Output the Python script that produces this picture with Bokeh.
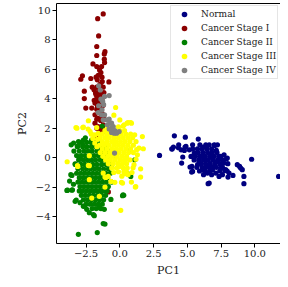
from bokeh.plotting import figure
from bokeh.models import Range1d, FixedTicker, CustomJSTickFormatter, LinearAxis
from bokeh.embed import file_html
from bokeh.resources import INLINE

# ---------------- data (PC1, PC2) ----------------
normal_pts = [
    (2.94, 0.16), (4.04, 1.49), (4.85, 1.40), (5.81, 1.27), (3.87, 0.59), (3.97, 0.73),
    (4.36, 0.88), (4.54, 0.54), (4.90, 0.77), (5.15, 0.54), (5.39, 0.88), (4.66, 0.05),
    (4.58, -0.36), (5.20, -0.63), (5.32, -0.97), (6.54, -1.76), (9.19, -1.76), (9.19, -1.27),
    (9.76, -0.10), (11.76, -1.27), (8.87, -0.59), (9.07, -0.81), (8.01, -1.31), (8.38, -1.20),
    (7.77, -0.86), (7.89, -0.07), (7.15, 0.50), (7.03, 0.84), (5.93, 0.88), (6.18, 0.73),
    (6.37, 0.88), (6.62, 0.88), (6.99, 0.88), (7.23, 0.88), (5.51, 0.32), (5.27, 0.09),
    (5.34, -0.59), (5.39, -0.93), (5.76, -0.47), (6.13, -0.81), (6.49, -1.04), (6.62, -1.72),
    (6.99, -0.59), (7.23, -0.25), (7.47, 0.09), (7.72, 0.20), (7.96, -0.02), (8.09, -1.04),
    (8.70, -0.47), (8.95, -0.70), (7.35, -1.27), (7.84, -0.81), (6.86, -0.02), (6.37, -0.14),
    (6.13, 0.09), (5.88, -0.25), (6.62, -0.59), (6.86, -0.81), (7.47, -0.70), (7.11, -1.04),
    (7.72, -0.36), (4.83, 0.73), (4.34, 0.68), (3.85, 0.61), (4.78, 0.50),
    (5.40, 0.60), (5.75, 0.60), (6.10, 0.60), (6.45, 0.60), (6.80, 0.60),
    (5.80, 0.35), (6.15, 0.35), (6.50, 0.35), (6.85, 0.35), (7.20, 0.35),
    (5.60, 0.10), (5.95, 0.10), (6.30, 0.10), (6.65, 0.10), (7.00, 0.10), (7.35, 0.10),
    (5.50, -0.15), (5.85, -0.15), (6.20, -0.15), (6.55, -0.15), (6.90, -0.15), (7.25, -0.15), (7.60, -0.15),
    (6.00, -0.40), (6.35, -0.40), (6.70, -0.40), (7.05, -0.40), (7.40, -0.40), (8.00, -0.40),
    (5.70, -0.65), (6.10, -0.65), (6.40, -0.65), (6.75, -0.65), (7.15, -0.65), (7.60, -0.65),
    (5.90, -0.90), (6.30, -0.90), (6.65, -0.90), (7.40, -0.90), (7.95, -0.90),
    (6.20, -1.15), (6.80, -1.15), (7.60, -1.15),
]

stage1_pts = [
    (-1.23, 9.76), (-1.64, 9.44), (-1.57, 8.27), (-1.71, 7.55), (-1.10, 7.20), (-1.15, 7.05),
    (-1.71, 6.94), (-1.15, 6.69), (-1.13, 6.46), (-1.99, 6.37), (-1.71, 6.19), (-1.35, 6.19),
    (-1.40, 5.78), (-2.77, 5.56), (-2.89, 5.33), (-2.15, 5.38), (-1.76, 5.47), (-1.67, 5.29),
    (-1.32, 5.47), (-0.81, 5.15), (-1.30, 5.17), (-1.47, 4.93), (-2.04, 4.79), (-1.71, 4.79),
    (-1.23, 4.79), (-2.63, 4.52), (-1.91, 4.61), (-1.52, 4.49), (-1.18, 4.43), (-1.76, 4.27),
    (-1.47, 4.16), (-2.63, 4.02), (-1.71, 4.02), (-1.32, 3.93), (-1.84, 3.71), (-1.60, 3.75),
    (-1.23, 3.57), (-2.52, 3.37), (-2.08, 3.37), (-1.71, 3.30), (-1.52, 3.14), (-1.84, 2.92),
    (-1.35, 2.85), (-1.71, 2.62), (-1.42, 2.53), (-1.84, 2.35), (-1.23, 2.24), (-1.60, 2.12),
    (-1.76, 1.44), (-1.27, 1.78), (-0.85, -2.32),
    (-1.55, 4.60), (-1.45, 4.40), (-1.60, 4.00), (-1.40, 3.80), (-1.65, 3.50), (-1.50, 3.20),
    (-1.30, 3.00), (-1.55, 2.70), (-1.45, 5.00), (-1.60, 5.60), (-1.50, 5.95), (-1.25, 4.20),
    (-1.80, 4.40), (-1.90, 3.90), (-1.35, 3.40), (-1.20, 2.80), (-1.70, 2.00), (-1.50, 1.80),
    (-1.30, 2.00),
]

stage2_pts = [
    # outer points
    (-3.07, -5.20), (-1.67, -5.08), (-1.23, -4.47), (-1.10, -4.50), (-1.89, -3.93), (-3.87, -2.20),
    (-3.55, -2.20), (-3.72, -1.58), (-3.43, -1.80), (-3.55, -1.20), (-3.60, 0.88), (-2.74, 0.88),
    (-3.31, -0.41), (-2.94, -0.07), (1.10, -0.14), (0.81, -1.27), (0.29, -2.55), (0.20, -2.58),
    (-3.23, -2.87), (-2.94, -3.05), (-2.62, -3.28), (-2.45, -3.50), (-2.26, -3.73), (-1.52, -3.39),
    (-1.15, -3.50), (-0.66, -2.83), (-3.63, -1.15), (-3.92, -2.22), (-3.51, -2.17), (-3.31, -2.96),
    (-2.70, -3.30), (-1.96, -3.86), (0.24, -2.51), (0.54, -1.04), (-3.42, 1.00), (-3.06, 1.10),
    (-2.70, 1.20), (-2.09, 1.20), (-1.30, 2.15), (-3.10, 0.80), (0.73, 0.49),
    # dense body
    (-2.55, 1.35),
    (-2.85, 1.05), (-2.45, 1.05), (-2.15, 1.05), (-1.75, 1.05), (-1.35, 1.05),
    (-3.15, 0.75), (-2.75, 0.75), (-2.45, 0.75), (-2.10, 0.75), (-1.80, 0.75), (-1.45, 0.75), (-1.10, 0.75),
    (-3.40, 0.45), (-3.00, 0.45), (-2.65, 0.45), (-2.35, 0.45), (-2.05, 0.45), (-1.70, 0.45),
    (-1.40, 0.45), (-1.05, 0.45), (-0.70, 0.45),
    (-3.20, 0.15), (-2.85, 0.15), (-2.55, 0.15), (-2.20, 0.15), (-1.90, 0.15), (-1.60, 0.15),
    (-1.25, 0.15), (-0.90, 0.15), (-0.50, 0.15),
    (-3.05, -0.15), (-2.70, -0.15), (-2.40, -0.15), (-2.10, -0.15), (-1.80, -0.15), (-1.45, -0.15),
    (-1.15, -0.15), (-0.80, -0.15),
    (-3.30, -0.45), (-2.90, -0.45), (-2.60, -0.45), (-2.30, -0.45), (-2.00, -0.45), (-1.70, -0.45),
    (-1.35, -0.45), (-1.00, -0.45), (-0.60, -0.45),
    (-3.10, -0.75), (-2.75, -0.75), (-2.45, -0.75), (-2.15, -0.75), (-1.85, -0.75), (-1.55, -0.75),
    (-1.20, -0.75), (-0.85, -0.75),
    (-3.20, -1.05), (-2.90, -1.05), (-2.60, -1.05), (-2.30, -1.05), (-2.00, -1.05), (-1.70, -1.05),
    (-1.40, -1.05), (-1.05, -1.05), (-0.70, -1.05),
    (-3.00, -1.35), (-2.70, -1.35), (-2.40, -1.35), (-2.10, -1.35), (-1.80, -1.35), (-1.50, -1.35),
    (-1.20, -1.35), (-0.90, -1.35),
    (-3.10, -1.65), (-2.80, -1.65), (-2.50, -1.65), (-2.20, -1.65), (-1.90, -1.65), (-1.60, -1.65),
    (-1.30, -1.65), (-1.00, -1.65), (-0.60, -1.65),
    (-2.95, -1.95), (-2.65, -1.95), (-2.35, -1.95), (-2.05, -1.95), (-1.75, -1.95), (-1.45, -1.95),
    (-1.15, -1.95), (-0.85, -1.95),
    (-3.00, -2.25), (-2.75, -2.25), (-2.45, -2.25), (-2.15, -2.25), (-1.85, -2.25), (-1.55, -2.25),
    (-1.25, -2.25), (-0.95, -2.25),
    (-2.85, -2.55), (-2.55, -2.55), (-2.25, -2.55), (-1.95, -2.55), (-1.65, -2.55), (-1.35, -2.55),
    (-1.05, -2.55),
    (-2.70, -2.85), (-2.40, -2.85), (-2.10, -2.85), (-1.80, -2.85), (-1.50, -2.85), (-1.20, -2.85),
    (-2.50, -3.15), (-2.20, -3.15), (-1.90, -3.15), (-1.60, -3.15), (-1.30, -3.15),
    (-2.05, -3.45), (-1.75, -3.45), (-1.40, -3.45),
]

stage3_pts = [
    # outer points
    (-2.74, 2.05), (-3.18, 2.01), (-3.25, 2.05), (-2.70, 2.08), (-2.33, 2.51), (-2.20, 1.78),
    (-2.35, 1.95), (-0.98, 1.00), (0.61, 2.39), (0.79, 2.39), (-0.31, 3.41), (-0.44, 2.89),
    (0.54, 2.35), (0.86, 2.35), (1.10, 1.56), (0.32, 2.24), (0.24, 2.15), (0.00, 2.57),
    (-1.71, 2.05), (-3.90, -0.27), (-2.26, 0.14), (-3.11, -0.59), (-2.26, -0.54), (-2.26, -1.49),
    (-1.52, -2.62), (-1.03, -1.34), (-0.66, -1.61), (0.20, -1.72), (1.18, -1.95), (1.05, -0.47),
    (-0.05, -0.59), (0.49, -0.09), (1.30, 0.20), (1.42, 0.66), (1.67, 1.44), (-3.14, -0.54),
    (-1.10, -1.99), (-2.08, -2.74), (0.07, -3.57), (0.12, -1.67), (-0.37, -1.67), (0.37, -1.08),
    (0.61, -1.15), (-0.86, -1.27), (-1.23, -1.04), (-2.33, -0.52), (-1.10, -1.31), (1.15, -1.99),
    (1.54, -1.31), (1.54, -0.75), (1.74, 0.61), (0.98, -0.68), (0.49, -0.97), (0.86, -1.65),
    (-1.85, 1.55), (-1.65, 1.25), (-1.85, 1.00), (-1.70, 0.75), (-2.00, 1.30), (-1.60, 1.65),
    (-2.10, 1.60), (1.20, 1.10), (1.25, 0.55), (1.20, -0.10), (0.90, -1.00),
    (0.50, -0.40), (0.55, -0.70), (-0.10, -0.95), (0.30, -0.95), (-0.45, -1.00), (0.15, -1.25),
    # dense core
    (-0.90, 2.10), (-0.50, 2.10), (-0.10, 2.10),
    (-1.10, 1.85), (-0.75, 1.85), (-0.40, 1.85), (0.00, 1.85), (0.35, 1.85),
    (-1.30, 1.60), (-0.95, 1.60), (-0.60, 1.60), (-0.25, 1.60), (0.10, 1.60), (0.45, 1.60), (0.80, 1.60),
    (-1.45, 1.35), (-1.10, 1.35), (-0.80, 1.35), (-0.45, 1.35), (-0.10, 1.35), (0.25, 1.35),
    (0.60, 1.35), (0.95, 1.35),
    (-1.30, 1.10), (-0.95, 1.10), (-0.60, 1.10), (-0.30, 1.10), (0.05, 1.10), (0.40, 1.10), (0.75, 1.10),
    (-1.50, 0.85), (-1.15, 0.85), (-0.80, 0.85), (-0.45, 0.85), (-0.10, 0.85), (0.25, 0.85),
    (0.60, 0.85), (1.00, 0.85),
    (-1.30, 0.60), (-0.95, 0.60), (-0.60, 0.60), (-0.25, 0.60), (0.10, 0.60), (0.45, 0.60), (0.80, 0.60),
    (-1.45, 0.35), (-1.10, 0.35), (-0.75, 0.35), (-0.40, 0.35), (-0.05, 0.35), (0.30, 0.35),
    (0.65, 0.35), (1.00, 0.35),
    (-1.25, 0.10), (-0.90, 0.10), (-0.55, 0.10), (-0.20, 0.10), (0.15, 0.10), (0.50, 0.10),
    (-1.05, -0.15), (-0.70, -0.15), (-0.35, -0.15), (0.00, -0.15), (0.35, -0.15), (0.75, -0.15),
    (-0.85, -0.40), (-0.50, -0.40), (-0.15, -0.40), (0.20, -0.40),
    (-0.60, -0.70), (-0.25, -0.70), (0.25, -0.70),
]

stage4_pts = [
    (-1.57, 4.88), (-1.13, 4.16), (-0.79, 4.22), (-1.40, 3.98), (-1.27, 3.82), (-1.57, 3.53),
    (-1.32, 3.25), (-1.60, 3.07), (-1.13, 2.92), (-1.35, 2.92), (-1.23, 2.58), (-0.98, 2.58),
    (-0.79, 2.62), (-0.61, 2.35), (-0.74, 2.35), (-0.93, 2.24), (-0.49, 2.12), (-0.61, 2.01),
    (-0.79, 1.95), (-0.37, 1.85), (-0.61, 1.72), (-0.24, 1.67), (-0.05, 1.78), (-0.42, 1.67),
    (-0.39, 0.32), (-1.45, 4.60), (-1.20, 3.60),
]

groups = ["Normal", "Cancer Stage I", "Cancer Stage II", "Cancer Stage III", "Cancer Stage IV"]
colors = ["#000080", "#8b0000", "#008000", "#ffff00", "#808080"]
x_ticks = [-2.5, 0.0, 2.5, 5.0, 7.5, 10.0]
y_ticks = [-4, -2, 0, 2, 4, 6, 8, 10]

FONT = "DejaVu Serif"

p = figure(width=280, height=279,
           x_range=Range1d(-4.69, 11.9), y_range=Range1d(-5.82, 10.47),
           output_backend="svg", toolbar_location=None,
           min_border_left=56, min_border_right=0, min_border_top=3, min_border_bottom=34)
p.outline_line_color = None
p.grid.visible = False
p.background_fill_color = "white"
p.border_fill_color = "white"

for pts, name, col in zip([normal_pts, stage1_pts, stage2_pts, stage3_pts, stage4_pts], groups, colors):
    p.scatter([q[0] for q in pts], [q[1] for q in pts], size=5.2, fill_color=col,
              line_color=None, legend_label=name)

p.xaxis.ticker = FixedTicker(ticks=x_ticks)
p.yaxis.ticker = FixedTicker(ticks=y_ticks)
p.xaxis.formatter = CustomJSTickFormatter(code="return tick.toFixed(1).replace('-', '\\u2212');")
p.yaxis.formatter = CustomJSTickFormatter(code="return tick.toFixed(0).replace('-', '\\u2212');")
p.xaxis.axis_label = "PC1"
p.yaxis.axis_label = "PC2"
for ax in (p.xaxis[0], p.yaxis[0]):
    ax.axis_line_color = "black"
    ax.axis_line_width = 1
    ax.major_tick_line_color = "black"
    ax.major_tick_out = 4
    ax.major_tick_in = 0
    ax.minor_tick_line_color = None
    ax.major_label_text_font = FONT
    ax.major_label_text_font_size = "10px"
    ax.major_label_text_color = "#222222"
    ax.major_label_standoff = 2
    ax.axis_label_text_font = FONT
    ax.axis_label_text_font_size = "11px"
    ax.axis_label_text_font_style = "normal"
    ax.axis_label_text_color = "#222222"
    ax.axis_label_standoff = 4

top = LinearAxis(ticker=FixedTicker(ticks=[]), major_tick_out=0, major_tick_in=0,
                 minor_tick_out=0, minor_tick_in=0, major_label_standoff=0,
                 major_label_text_font_size="0px", axis_line_color="black", axis_line_width=1)
p.add_layout(top, "above")

lg = p.legend[0]
lg.location = (114, 164)
lg.label_text_font = FONT
lg.label_text_font_size = "9px"
lg.label_text_color = "#222222"
lg.glyph_width = 24
lg.glyph_height = 14
lg.label_height = 14
lg.label_standoff = 5
lg.spacing = 0
lg.padding = 1
lg.margin = 0
lg.border_line_color = "#cccccc"
lg.background_fill_alpha = 0.8

open("out.html", "w", encoding="utf-8").write(file_html(p, INLINE))
